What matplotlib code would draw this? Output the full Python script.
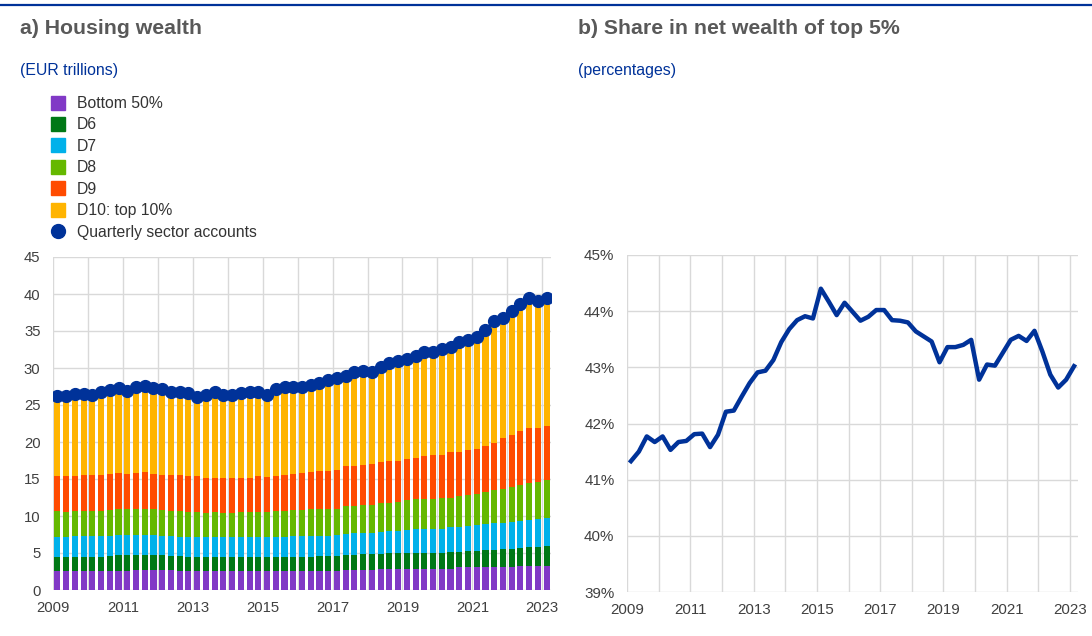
import numpy as np
import matplotlib.pyplot as plt
from matplotlib.lines import Line2D
import matplotlib.ticker as mticker

plt.rcParams['font.family'] = ['Liberation Sans', 'DejaVu Sans']

# quarterly observations, 2009 Q1 .. 2023 Q1
n_q = 57
years = list(range(2009, 2024))

# panel a: upper edge of each band (EUR trillions, cumulative as stacked)
top_bottom50 = [2.6, 2.6, 2.6, 2.6, 2.6, 2.6, 2.6, 2.6, 2.6, 2.75, 2.75, 2.75,
                2.75, 2.75, 2.6, 2.6, 2.6, 2.6, 2.6, 2.6, 2.6, 2.6, 2.6, 2.6,
                2.6, 2.6, 2.6, 2.6, 2.6, 2.6, 2.6, 2.6, 2.6, 2.7, 2.7, 2.7,
                2.7, 2.8, 2.8, 2.8, 2.8, 2.8, 2.8, 2.8, 2.8, 2.9, 3.05, 3.05,
                3.05, 3.15, 3.15, 3.15, 3.15, 3.25, 3.25, 3.25, 3.3]
top_d6 = [4.5, 4.5, 4.5, 4.5, 4.5, 4.5, 4.6, 4.7, 4.7, 4.75, 4.75, 4.75,
          4.7, 4.6, 4.55, 4.5, 4.5, 4.5, 4.5, 4.5, 4.5, 4.5, 4.5, 4.5,
          4.5, 4.5, 4.5, 4.5, 4.5, 4.5, 4.6, 4.6, 4.6, 4.7, 4.7, 4.8,
          4.85, 4.85, 4.95, 4.95, 5.05, 5.05, 5.05, 5.05, 5.05, 5.2, 5.2, 5.3,
          5.3, 5.4, 5.4, 5.55, 5.6, 5.7, 5.75, 5.85, 5.95]
top_d7 = [7.1, 7.1, 7.3, 7.3, 7.3, 7.3, 7.35, 7.4, 7.4, 7.45, 7.45, 7.4,
          7.35, 7.3, 7.2, 7.1, 7.1, 7.1, 7.1, 7.1, 7.1, 7.1, 7.1, 7.1,
          7.1, 7.15, 7.2, 7.25, 7.3, 7.3, 7.3, 7.3, 7.45, 7.55, 7.65, 7.65,
          7.75, 7.9, 8.0, 8.0, 8.1, 8.2, 8.2, 8.2, 8.3, 8.45, 8.55, 8.65,
          8.8, 8.9, 9.0, 9.1, 9.2, 9.35, 9.45, 9.55, 9.7]
top_d8 = [10.7, 10.6, 10.7, 10.7, 10.7, 10.7, 10.8, 10.9, 10.9, 10.9, 10.9, 10.9,
          10.8, 10.7, 10.7, 10.6, 10.5, 10.4, 10.5, 10.4, 10.4, 10.5, 10.6, 10.6,
          10.6, 10.7, 10.7, 10.8, 10.8, 10.9, 10.9, 10.9, 11.0, 11.3, 11.4, 11.5,
          11.5, 11.7, 11.8, 11.9, 12.1, 12.25, 12.3, 12.35, 12.4, 12.5, 12.7, 12.8,
          13.0, 13.2, 13.5, 13.7, 13.9, 14.2, 14.4, 14.6, 14.8]
top_d9 = [15.4, 15.4, 15.4, 15.5, 15.5, 15.6, 15.7, 15.85, 15.7, 15.85, 15.9, 15.7,
          15.6, 15.5, 15.5, 15.4, 15.4, 15.2, 15.2, 15.2, 15.2, 15.2, 15.2, 15.4,
          15.3, 15.4, 15.5, 15.7, 15.8, 16.0, 16.1, 16.1, 16.2, 16.7, 16.8, 16.9,
          17.0, 17.3, 17.5, 17.5, 17.7, 17.8, 18.1, 18.2, 18.25, 18.6, 18.7, 18.9,
          19.0, 19.4, 19.9, 20.5, 20.9, 21.5, 21.85, 21.85, 22.1]
sector_accounts = [26.2, 26.2, 26.5, 26.5, 26.4, 26.8, 27.0, 27.3, 26.9, 27.4, 27.6, 27.3,
                   27.1, 26.8, 26.8, 26.6, 26.1, 26.4, 26.7, 26.4, 26.4, 26.6, 26.8, 26.7,
                   26.4, 27.1, 27.5, 27.4, 27.5, 27.7, 28.0, 28.4, 28.6, 28.9, 29.4, 29.6,
                   29.5, 30.2, 30.7, 30.9, 31.2, 31.6, 32.1, 32.2, 32.6, 32.9, 33.5, 33.8,
                   34.2, 35.2, 36.3, 36.8, 37.7, 38.6, 39.4, 39.0, 39.4]

# panel b: share of top 5% in net wealth (%)
top5_share = [41.33, 41.50, 41.77, 41.67, 41.77, 41.53, 41.67, 41.69, 41.81, 41.82, 41.58, 41.80,
              42.21, 42.23, 42.48, 42.72, 42.91, 42.94, 43.13, 43.45, 43.68, 43.84, 43.91, 43.87,
              44.40, 44.17, 43.93, 44.15, 43.99, 43.83, 43.90, 44.02, 44.02, 43.84, 43.83, 43.80,
              43.64, 43.55, 43.46, 43.09, 43.36, 43.36, 43.40, 43.49, 42.78, 43.05, 43.03, 43.26,
              43.49, 43.56, 43.47, 43.65, 43.28, 42.87, 42.64, 42.78, 43.02]

labels = ['Bottom 50%', 'D6', 'D7', 'D8', 'D9', 'D10: top 10%']
colors = ['#8139c6', '#007816', '#00b1ea', '#65b800', '#ff4b00', '#ffb400']
blue = '#003299'
grid_c = '#d9d9d9'
txt_c = '#404040'

x = 2009 + (np.arange(n_q) + 0.5) / 4

W, H = 1092, 636
fig = plt.figure(figsize=(W / 100, H / 100), dpi=100)

# top rule
fig.add_artist(Line2D([0, 1], [1 - 5 / H, 1 - 5 / H], color=blue, lw=1.6))

fig.text(20 / W, 1 - 28 / H, 'a) Housing wealth', fontsize=15.3, fontweight='bold',
         color='#595959', va='center')
fig.text(20 / W, 1 - 71 / H, '(EUR trillions)', fontsize=11.4, color=blue, va='center')
fig.text(578 / W, 1 - 28 / H, 'b) Share in net wealth of top 5%', fontsize=15.3,
         fontweight='bold', color='#595959', va='center')
fig.text(578 / W, 1 - 71 / H, '(percentages)', fontsize=11.4, color=blue, va='center')


def style(ax, size):
    for s in ax.spines.values():
        s.set_visible(False)
    ax.set_xticks(years, minor=True)
    ax.set_xticks(years[::2])
    ax.grid(True, which='both', color=grid_c, lw=1)
    ax.set_axisbelow(True)
    ax.tick_params(which='both', length=0, labelsize=size, labelcolor=txt_c)
    ax.tick_params(axis='x', pad=8)
    ax.tick_params(axis='y', pad=9)
    ax.set_xlim(2009, 2023.25)


# panel a
ax1 = fig.add_axes([53 / W, (H - 590) / H, 498 / W, 333 / H])
style(ax1, 10.7)
tops = [top_bottom50, top_d6, top_d7, top_d8, top_d9, sector_accounts]
prev = np.zeros(n_q)
for top, c, lab in zip(tops, colors, labels):
    top = np.array(top)
    ax1.bar(x, top - prev, bottom=prev, width=0.25 * 0.7, color=c, label=lab, lw=0)
    prev = top
ax1.plot(x, sector_accounts, color=blue, lw=2, marker='o', ms=8.5, zorder=5)
ax1.set_ylim(0, 45)
ax1.set_yticks(range(0, 50, 5))

handles = [Line2D([], [], ls='none', marker='s', ms=9.5, color=c) for c in colors]
handles.append(Line2D([], [], ls='none', marker='o', ms=10, color=blue))
fig.legend(handles, labels + ['Quarterly sector accounts'], loc='upper left',
           bbox_to_anchor=(51 / W, 1 - 96 / H), frameon=False, fontsize=11.3,
           labelcolor='#333333', handlelength=0.95, handletextpad=0.7,
           labelspacing=0.41, borderpad=0, borderaxespad=0)

# panel b
ax2 = fig.add_axes([627 / W, (H - 592) / H, 451 / W, 337 / H])
style(ax2, 10.9)
ax2.plot(x, top5_share, color=blue, lw=3.2, solid_joinstyle='round')
ax2.set_ylim(39, 45)
ax2.set_yticks(range(39, 46))
ax2.yaxis.set_major_formatter(mticker.FuncFormatter(lambda v, p: f'{v:.0f}%'))

fig.savefig('out.png', dpi=100)
